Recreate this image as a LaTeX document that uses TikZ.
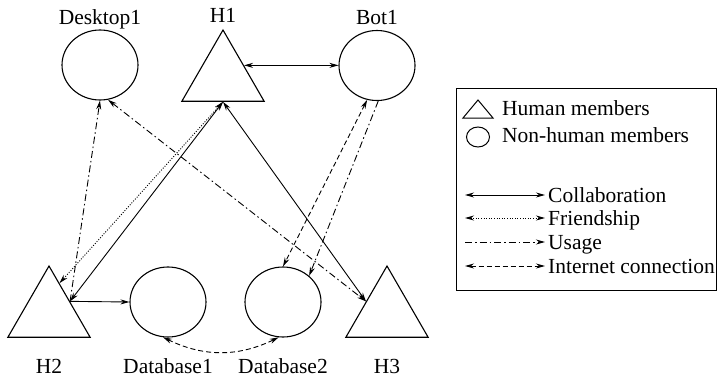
\documentclass[tikz,border=0pt]{standalone}
\usepackage{fontspec}
\setmainfont{Liberation Serif}
\newfontfamily\lserif{Liberation Serif}
\usetikzlibrary{arrows.meta,shapes.geometric,calc}
\begin{document}
\begin{tikzpicture}[x=1pt,y=-1pt,
  >={Stealth[length=9pt,width=5pt]},
  txt/.style={font=\lserif\fontsize{21.5}{25}\selectfont, inner sep=0pt},
  member/.style={draw, ellipse, line width=1.1pt, minimum width=76pt, minimum height=70pt, inner sep=0pt},
  human/.style={draw, regular polygon, regular polygon sides=3, minimum size=95pt, inner sep=0pt, line width=1.1pt},
  conn/.style={line width=0.9pt},
  collab/.style={conn, <->},
  friend/.style={conn, <->, dash pattern=on 1pt off 1.6pt},
  usage/.style={conn, ->, dash pattern=on 7pt off 3pt on 1.5pt off 3pt},
  internet/.style={conn, <->, dash pattern=on 5pt off 3pt},
]
\path[use as bounding box] (0,0) rectangle (717,380);

% members
\node[member] (D1) at (100,65) {};
\node[member] (B1) at (377,65.5) {};
\node[member] (DB1) at (168,302) {};
\node[member] (DB2) at (283,302) {};
\node[human] (H1) at (223,77.5) {};
\node[human] (H2) at (49,313.5) {};
\node[human] (H3) at (387,313.5) {};

% labels
\node[txt, anchor=base] (lD1) at (100,24) {Desktop1};
\node[txt, anchor=base] (lH1) at (223,23) {H1};
\node[txt, anchor=base] (lB1) at (377,24) {Bot1};
\node[txt, anchor=base] (lH2) at (49,373) {H2};
\node[txt, anchor=base] (lDB1) at (168,373) {Database1};
\node[txt, anchor=base] (lDB2) at (283,373) {Database2};
\node[txt, anchor=base] (lH3) at (387,373) {H3};

% connectors
\coordinate (h2f) at ($(H2.corner 1)!0.25!(H2.corner 3)$);
\draw[collab] (H1.side 3) -- (H1.side 3 -| B1.west);
\draw[collab] (H1.south) -- (H2.side 3);
\draw[collab] (H3.side 1) -- (H1.south);
\draw[conn, ->] (H2.side 3) -- (DB1.west);
\draw[friend] (H1.south) -- (h2f);
\draw[usage] (H2.side 3) -- (D1.south);
\draw[usage, <->] (D1.283) -- (H3.side 1);
\draw[internet] (B1.254) -- (DB2.north);
\draw[usage] (B1.272) -- (DB2.45);
\draw[internet] (DB1.262) to[bend right=26] (DB2.263);

% legend
\node[draw, line width=1.2pt, inner sep=0pt, minimum width=260pt, minimum height=202pt, anchor=north west] (legend) at (455.5,87.5) {};
\draw[line width=1pt] (463,118) -- (493,118) -- (478,100) -- cycle;
\draw[line width=1pt] (478,137) ellipse [x radius=11.5, y radius=10];
\node[txt, anchor=base west] (lgH) at (502,115) {Human members};
\node[txt, anchor=base west] (lgN) at (502,142) {Non-human members};

\coordinate (c1a) at (465,195); \coordinate (c1b) at (545,195);
\coordinate (c2a) at (465,218); \coordinate (c2b) at (545,218);
\coordinate (c3a) at (465,242); \coordinate (c3b) at (545,242);
\coordinate (c4a) at (465,266); \coordinate (c4b) at (545,266);
\draw[collab] (c1a) -- (c1b);
\draw[friend] (c2a) -- (c2b);
\draw[usage] (c3a) -- (c3b);
\draw[internet] (c4a) -- (c4b);
\node[txt, anchor=base west] (lg1) at (548,202) {Collaboration};
\node[txt, anchor=base west] (lg2) at (548,225) {Friendship};
\node[txt, anchor=base west] (lg3) at (548,249) {Usage};
\node[txt, anchor=base west] (lg4) at (548,273) {Internet connection};
\end{tikzpicture}
\end{document}
